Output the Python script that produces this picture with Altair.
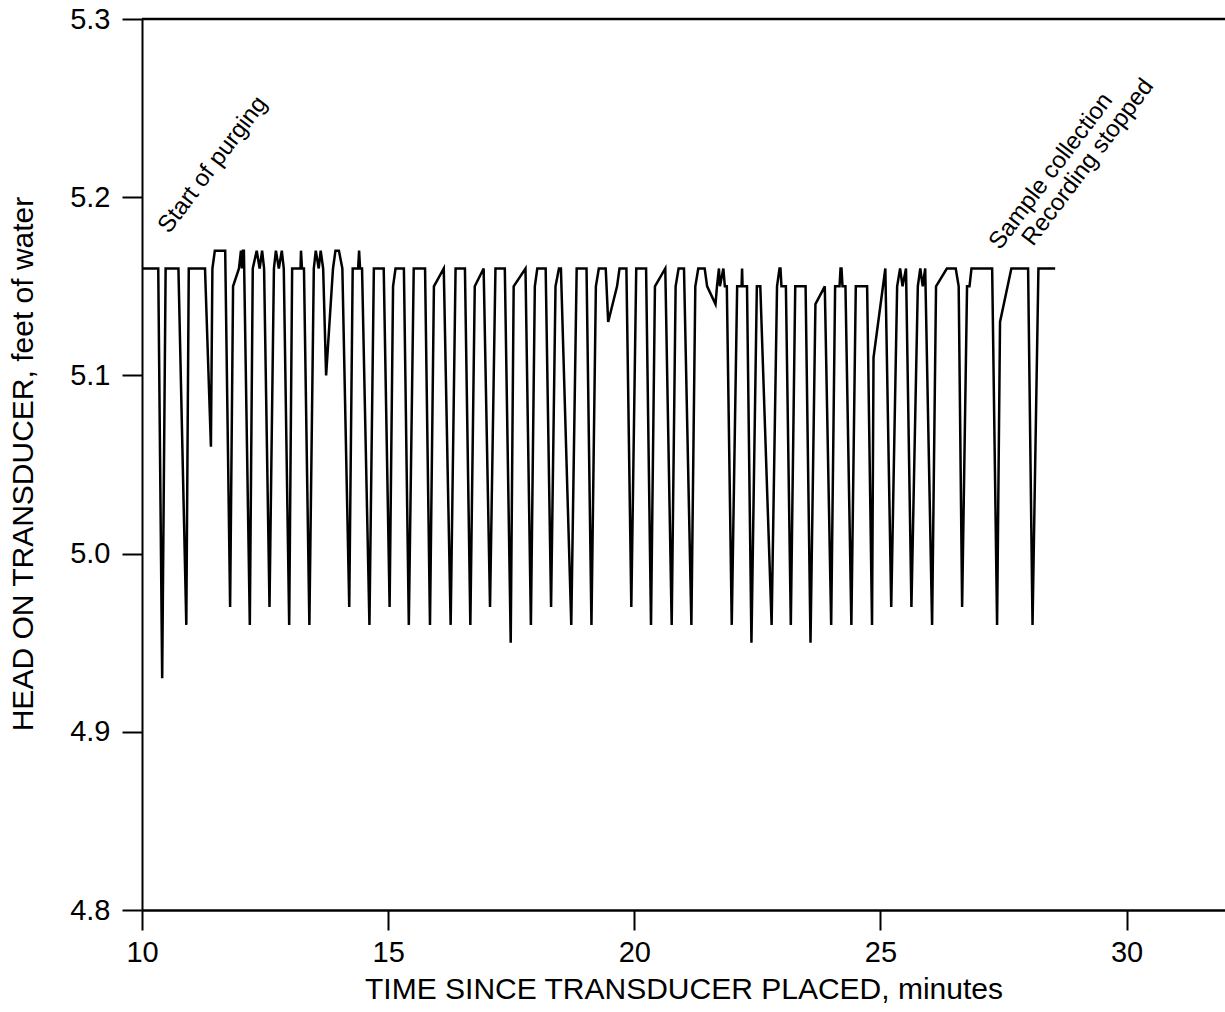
import altair as alt
import pandas as pd

# Recorded head on the transducer during purging (minutes, feet of water)
time_min = [
    10.00, 10.33, 10.41, 10.48, 10.74, 10.90, 10.95, 11.28, 11.40, 11.43,
    11.48, 11.69, 11.79, 11.85, 11.97, 12.01, 12.03, 12.05, 12.07, 12.19,
    12.25, 12.33, 12.39, 12.44, 12.48, 12.59, 12.68, 12.72, 12.78, 12.84,
    12.88, 12.99, 13.05, 13.22, 13.23, 13.25, 13.29, 13.40, 13.49, 13.53,
    13.59, 13.63, 13.68, 13.74, 13.88, 13.93, 14.00, 14.07, 14.21, 14.28,
    14.39, 14.41, 14.43, 14.47, 14.62, 14.71, 14.91, 15.03, 15.10, 15.15,
    15.32, 15.42, 15.52, 15.75, 15.85, 15.93, 16.13, 16.27, 16.37, 16.56,
    16.67, 16.76, 16.94, 17.07, 17.18, 17.37, 17.49, 17.55, 17.79, 17.90,
    17.98, 18.03, 18.20, 18.31, 18.40, 18.47, 18.51, 18.72, 18.83, 19.03,
    19.13, 19.22, 19.28, 19.42, 19.47, 19.65, 19.70, 19.84, 19.94, 20.04,
    20.24, 20.34, 20.42, 20.63, 20.76, 20.84, 20.90, 21.01, 21.16, 21.24,
    21.30, 21.43, 21.48, 21.65, 21.68, 21.72, 21.74, 21.81, 21.84, 21.88,
    21.98, 22.09, 22.18, 22.19, 22.20, 22.29, 22.38, 22.49, 22.56, 22.79,
    22.90, 22.95, 22.97, 22.99, 23.08, 23.18, 23.27, 23.48, 23.58, 23.68,
    23.87, 24.00, 24.08, 24.17, 24.19, 24.21, 24.23, 24.29, 24.41, 24.50,
    24.73, 24.83, 24.86, 25.10, 25.22, 25.34, 25.40, 25.45, 25.52, 25.63,
    25.76, 25.81, 25.86, 25.91, 26.05, 26.13, 26.35, 26.53, 26.59, 26.66,
    26.76, 26.81, 26.85, 27.27, 27.37, 27.43, 27.66, 28.00, 28.09, 28.21,
    28.55,
]
head_ft = [
    5.16, 5.16, 4.93, 5.16, 5.16, 4.96, 5.16, 5.16, 5.06, 5.16,
    5.17, 5.17, 4.97, 5.15, 5.16, 5.17, 5.16, 5.17, 5.17, 4.96,
    5.16, 5.17, 5.16, 5.17, 5.16, 4.97, 5.16, 5.17, 5.16, 5.17,
    5.16, 4.96, 5.16, 5.16, 5.17, 5.16, 5.16, 4.96, 5.16, 5.17,
    5.16, 5.17, 5.16, 5.10, 5.16, 5.17, 5.17, 5.16, 4.97, 5.16,
    5.16, 5.17, 5.16, 5.16, 4.96, 5.16, 5.16, 4.97, 5.15, 5.16,
    5.16, 4.96, 5.16, 5.16, 4.96, 5.15, 5.16, 4.96, 5.16, 5.16,
    4.96, 5.15, 5.16, 4.97, 5.16, 5.16, 4.95, 5.15, 5.16, 4.96,
    5.15, 5.16, 5.16, 4.97, 5.15, 5.16, 5.16, 4.96, 5.16, 5.16,
    4.96, 5.15, 5.16, 5.16, 5.13, 5.15, 5.16, 5.16, 4.97, 5.16,
    5.16, 4.96, 5.15, 5.16, 4.96, 5.15, 5.16, 5.16, 4.96, 5.15,
    5.16, 5.16, 5.15, 5.14, 5.15, 5.16, 5.15, 5.16, 5.15, 5.15,
    4.96, 5.15, 5.15, 5.16, 5.15, 5.15, 4.95, 5.15, 5.15, 4.96,
    5.15, 5.16, 5.16, 5.15, 5.15, 4.96, 5.15, 5.15, 4.95, 5.14,
    5.15, 4.96, 5.15, 5.15, 5.16, 5.16, 5.15, 5.15, 4.96, 5.15,
    5.15, 4.96, 5.11, 5.16, 4.97, 5.15, 5.16, 5.15, 5.16, 4.97,
    5.15, 5.16, 5.15, 5.16, 4.96, 5.15, 5.16, 5.16, 5.15, 4.97,
    5.15, 5.15, 5.16, 5.16, 4.96, 5.13, 5.16, 5.16, 4.96, 5.16,
    5.16,
]

# Event labels
event_text = ["Start of purging", "Sample collection", "Recording stopped"]
event_time = [10.55, 27.43, 28.10]
event_head = [5.179, 5.170, 5.172]

x_ticks = [10, 15, 20, 25, 30]
y_ticks = [4.8, 4.9, 5.0, 5.1, 5.2, 5.3]

FONT = "Liberation Sans"

series = pd.DataFrame({"t": time_min, "h": head_ft})
events = pd.DataFrame({"label": event_text, "t": event_time, "h": event_head})

x_scale = alt.Scale(domain=[10, 32], nice=False, zero=False)
y_scale = alt.Scale(domain=[4.8, 5.3], nice=False, zero=False)

x_axis = alt.Axis(
    title="TIME SINCE TRANSDUCER PLACED, minutes",
    values=x_ticks, format="d", grid=False, labelFlush=False,
    tickSize=20, tickWidth=2, tickColor="black",
    domainWidth=2.5, domainColor="black",
    labelPadding=8, labelFontSize=29, labelFont=FONT, labelColor="black",
    titleFontSize=30, titleFont=FONT, titleFontWeight="normal", titleColor="black",
    titleBaseline="alphabetic", titleY=88,
)
y_axis = alt.Axis(
    title="HEAD ON TRANSDUCER, feet of water",
    values=y_ticks, format=".1f", grid=False, labelFlush=False,
    tickSize=20, tickWidth=2, tickColor="black",
    domainWidth=2, domainColor="black",
    labelPadding=12, labelFontSize=29, labelFont=FONT, labelColor="black",
    titleFontSize=30, titleFont=FONT, titleFontWeight="normal", titleColor="black",
    titleX=-104, titleY=444.5,
)

line = alt.Chart(series).mark_line(color="black", strokeWidth=2.5).encode(
    x=alt.X("t:Q", scale=x_scale, axis=x_axis),
    y=alt.Y("h:Q", scale=y_scale, axis=y_axis),
    order="t:Q",
)

top_edge = alt.Chart(pd.DataFrame({"h": [5.3]})).mark_rule(
    color="black", strokeWidth=2.5
).encode(
    y=alt.Y("h:Q", scale=y_scale),
    x=alt.value(0),
    x2=alt.value(1083),
)

labels = alt.Chart(events).mark_text(
    angle=307, align="left", baseline="alphabetic",
    font=FONT, fontSize=24, color="black",
).encode(
    x=alt.X("t:Q", scale=x_scale),
    y=alt.Y("h:Q", scale=y_scale),
    text="label:N",
)

chart = (
    alt.layer(line, top_edge, labels)
    .properties(
        width=1083, height=891,
        autosize=alt.AutoSizeParams(type="none"),
        padding={"left": 142, "top": 19, "right": 0, "bottom": 102},
        background="white",
    )
    .configure_view(stroke=None)
)

chart.save("out.html", embed_options={"renderer": "svg", "actions": False})
